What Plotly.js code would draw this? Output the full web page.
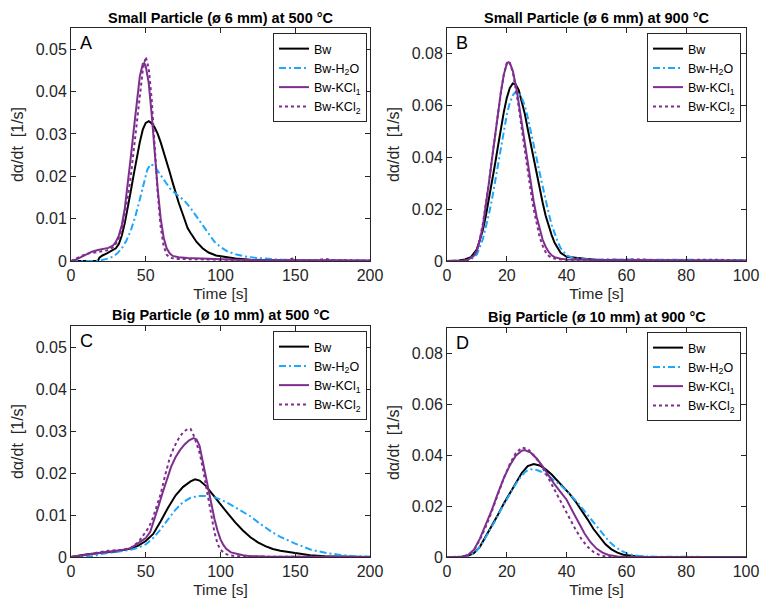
<!DOCTYPE html>
<html>
<head>
<meta charset="utf-8">
<script src="https://cdn.plot.ly/plotly-3.0.1.min.js"></script>
<style>html,body{margin:0;padding:0;background:#fff;}#chart{width:760px;height:600px;}</style>
</head>
<body>
<div id="chart"></div>
<script>
// ---------- Data ----------
const seriesNames = ['Bw', 'Bw-H<sub>2</sub>O', 'Bw-KCl<sub>1</sub>', 'Bw-KCl<sub>2</sub>'];
const panelTitles = ['Small Particle (ø 6 mm) at 500 °C', 'Small Particle (ø 6 mm) at 900 °C',
                     'Big Particle (ø 10 mm) at 500 °C', 'Big Particle (ø 10 mm) at 900 °C'];
const panelLetters = ['A', 'B', 'C', 'D'];

// Panel A: small particle, 500 °C
const A_Bw_t = [0,10,18,19,21,24,27,30,32,34,36,38,40,42,44,46,48,50,52,54,56,58,60,62,64,66,68,70,72,75,78,80,84,88,92,97,103,110,120,140,160,180,200];
const A_Bw_v = [0,0,0,0.0008,0.0013,0.0018,0.0024,0.0030,0.0040,0.0060,0.0090,0.0125,0.0165,0.0205,0.0245,0.0280,0.0310,0.0326,0.0330,0.0325,0.0315,0.0300,0.0280,0.0258,0.0235,0.0210,0.0185,0.0160,0.0138,0.0108,0.0078,0.0066,0.0045,0.0030,0.0020,0.0013,0.0009,0.0006,0.0003,0.0001,0.0001,0.0001,0];
const A_H2O_t = [0,15,20,24,28,31,34,37,40,43,46,49,51,53,55,57,60,63,66,69,72,76,80,84,88,92,96,100,105,110,116,122,130,140,160,180,200];
const A_H2O_v = [0,0,0.0002,0.0005,0.0010,0.0018,0.0030,0.0048,0.0072,0.0105,0.0145,0.0190,0.0215,0.0228,0.0226,0.0218,0.0203,0.0188,0.0172,0.0162,0.0153,0.0142,0.0125,0.0105,0.0083,0.0062,0.0045,0.0033,0.0022,0.0016,0.0011,0.0008,0.0005,0.0003,0.0002,0.0002,0.0001];
const A_KCl1_t = [0,3,6,10,14,18,22,25,28,30,32,34,36,38,40,42,44,46,48,49,50,52,54,56,58,60,62,64,66,68,72,78,85,95,110,130,160,200];
const A_KCl1_v = [0,0.0003,0.0008,0.0016,0.0022,0.0026,0.0029,0.0031,0.0036,0.0045,0.0060,0.0085,0.0125,0.0180,0.0245,0.0310,0.0375,0.0435,0.0465,0.0467,0.0460,0.0420,0.0345,0.0255,0.0170,0.0100,0.0055,0.0030,0.0018,0.0012,0.0009,0.0007,0.0006,0.0004,0.0003,0.0002,0.0002,0.0001];
const A_KCl2_t = [0,3,6,9,12,16,20,24,28,31,34,37,40,43,46,48,50,52,54,56,58,60,62,64,66,70,80,100,120,145,148,151,165,170,175,200];
const A_KCl2_v = [0,0.0005,0.0010,0.0015,0.0018,0.0020,0.0022,0.0025,0.0032,0.0045,0.0075,0.0125,0.0200,0.0290,0.0390,0.0450,0.0482,0.0455,0.0380,0.0270,0.0160,0.0080,0.0035,0.0015,0.0008,0.0005,0.0004,0.0003,0.0002,0.0002,0.0006,0.0002,0.0002,0.0005,0.0002,0.0001];

// Panel B: small particle, 900 °C
const B_Bw_t = [0,4,6,8,10,12,13,14,15,16,17,18,19,20,21,22,23,24,25,26,27,28,29,30,31,32,33,34,35,36,38,40,42,44,46,50,60,70,80,90,100];
const B_Bw_v = [0,0.0002,0.0006,0.0015,0.0045,0.0120,0.0175,0.0235,0.0300,0.0370,0.0440,0.0510,0.0575,0.0630,0.0668,0.0686,0.0682,0.0660,0.0620,0.0570,0.0510,0.0450,0.0390,0.0330,0.0275,0.0225,0.0175,0.0135,0.0100,0.0070,0.0032,0.0016,0.0013,0.0012,0.0009,0.0005,0.0003,0.0002,0.0002,0.0001,0.0001];
const B_H2O_t = [0,6,8,10,12,13,14,15,16,17,18,19,20,21,22,23,24,25,26,27,28,29,30,31,32,33,34,35,36,37,38,40,42,45,50,60,66,70,80,90,100];
const B_H2O_v = [0,0,0.0005,0.0025,0.0085,0.0130,0.0180,0.0235,0.0300,0.0370,0.0440,0.0505,0.0565,0.0610,0.0640,0.0655,0.0650,0.0630,0.0600,0.0555,0.0505,0.0450,0.0395,0.0340,0.0285,0.0235,0.0185,0.0140,0.0105,0.0075,0.0050,0.0022,0.0012,0.0008,0.0006,0.0005,0.0007,0.0005,0.0004,0.0004,0.0004];
const B_KCl1_t = [0,5,7,9,10,11,12,13,14,15,16,17,18,19,20,20.5,21,22,23,24,25,26,27,28,29,30,31,32,33,34,35,36,38,40,50,60,80,100];
const B_KCl1_v = [0,0.0001,0.0005,0.0020,0.0040,0.0080,0.0135,0.0210,0.0300,0.0390,0.0480,0.0570,0.0650,0.0720,0.0762,0.0768,0.0765,0.0735,0.0680,0.0610,0.0530,0.0450,0.0370,0.0295,0.0230,0.0170,0.0120,0.0082,0.0055,0.0035,0.0022,0.0015,0.0009,0.0006,0.0004,0.0003,0.0002,0.0001];
const B_KCl2_t = [0,5,7,9,10,11,12,13,14,15,16,17,18,19,20,20.5,21,22,23,24,25,26,27,28,29,30,31,32,33,34,35,37,40,50,65,70,80,90,100];
const B_KCl2_v = [0,0.0001,0.0005,0.0020,0.0042,0.0085,0.0145,0.0215,0.0300,0.0390,0.0480,0.0570,0.0650,0.0720,0.0765,0.0772,0.0765,0.0730,0.0670,0.0595,0.0510,0.0425,0.0345,0.0270,0.0200,0.0140,0.0092,0.0058,0.0034,0.0020,0.0012,0.0007,0.0005,0.0004,0.0006,0.0003,0.0003,0.0005,0.0002];

// Panel C: big particle, 500 °C
const C_Bw_t = [0,10,20,30,40,45,50,55,60,65,70,75,80,83,86,90,95,100,105,110,115,120,125,130,135,140,145,150,160,170,180,200];
const C_Bw_v = [0,0.0006,0.0010,0.0013,0.0020,0.0027,0.0038,0.0055,0.0085,0.0118,0.0147,0.0167,0.0180,0.0185,0.0182,0.0170,0.0148,0.0125,0.0103,0.0082,0.0063,0.0047,0.0035,0.0026,0.0019,0.0015,0.0012,0.0009,0.0004,0.0002,0.0001,0];
const C_H2O_t = [0,15,20,30,40,45,50,55,60,65,70,75,80,85,90,95,100,105,110,115,120,125,130,135,140,145,150,160,170,180,190,200];
const C_H2O_v = [0,0.0002,0.0007,0.0012,0.0017,0.0022,0.0030,0.0045,0.0066,0.0090,0.0113,0.0131,0.0141,0.0145,0.0145,0.0143,0.0137,0.0128,0.0117,0.0107,0.0097,0.0083,0.0070,0.0058,0.0048,0.0040,0.0032,0.0018,0.0010,0.0005,0.0002,0.0001];
const C_KCl1_t = [0,10,20,25,30,35,40,45,50,53,55,58,61,64,67,70,73,76,79,82,84,86,88,90,92,94,96,98,100,102,104,107,110,115,120,130,200];
const C_KCl1_v = [0,0.0005,0.0011,0.0014,0.0015,0.0017,0.0021,0.0033,0.0045,0.0060,0.0080,0.0115,0.0150,0.0185,0.0215,0.0238,0.0255,0.0268,0.0278,0.0283,0.0280,0.0265,0.0230,0.0190,0.0155,0.0120,0.0090,0.0063,0.0042,0.0028,0.0019,0.0011,0.0008,0.0004,0.0002,0.0001,0];
const C_KCl2_t = [0,10,20,25,30,35,40,45,48,51,54,57,60,63,66,69,72,75,78,80,82,84,86,88,90,92,94,96,98,100,103,106,110,120,200];
const C_KCl2_v = [0,0.0005,0.0012,0.0015,0.0016,0.0017,0.0022,0.0035,0.0050,0.0065,0.0085,0.0115,0.0150,0.0195,0.0235,0.0262,0.0282,0.0297,0.0305,0.0305,0.0290,0.0270,0.0248,0.0215,0.0175,0.0138,0.0095,0.0058,0.0032,0.0017,0.0008,0.0004,0.0002,0.0001,0];

// Panel D: big particle, 900 °C
const D_Bw_t = [0,5,7,9,11,13,15,17,19,21,23,25,27,29,31,33,35,37,39,41,43,45,47,49,51,53,55,57,59,61,63,66,70,100];
const D_Bw_v = [0,0.0001,0.0005,0.0015,0.0040,0.0080,0.0120,0.0165,0.0210,0.0250,0.0292,0.0330,0.0357,0.0365,0.0360,0.0345,0.0324,0.0300,0.0275,0.0248,0.0218,0.0185,0.0148,0.0110,0.0078,0.0050,0.0030,0.0017,0.0009,0.0005,0.0003,0.0001,0,0];
const D_H2O_t = [0,6,8,10,12,14,16,18,20,22,24,26,27,28,30,32,34,36,38,40,42,44,46,48,50,52,54,56,58,60,62,65,70,100];
const D_H2O_v = [0,0.0001,0.0008,0.0025,0.0058,0.0098,0.0140,0.0185,0.0228,0.0268,0.0305,0.0333,0.0341,0.0345,0.0342,0.0333,0.0318,0.0300,0.0282,0.0260,0.0237,0.0210,0.0180,0.0150,0.0120,0.0090,0.0064,0.0042,0.0026,0.0015,0.0008,0.0003,0.0001,0];
const D_KCl1_t = [0,5,7,9,11,13,15,17,19,21,23,25,26,28,30,32,34,36,38,40,42,44,46,48,50,52,54,57,60,100];
const D_KCl1_v = [0,0.0001,0.0008,0.0028,0.0072,0.0125,0.0185,0.0250,0.0310,0.0360,0.0398,0.0418,0.0420,0.0410,0.0387,0.0356,0.0320,0.0285,0.0255,0.0225,0.0180,0.0135,0.0092,0.0058,0.0033,0.0017,0.0008,0.0002,0.0001,0];
const D_KCl2_t = [0,5,7,9,11,13,15,17,19,21,23,25,27,29,31,33,35,37,39,41,43,45,47,49,51,53,56,100];
const D_KCl2_v = [0,0.0001,0.0007,0.0026,0.0068,0.0120,0.0180,0.0248,0.0310,0.0365,0.0408,0.0430,0.0425,0.0400,0.0370,0.0330,0.0285,0.0240,0.0195,0.0150,0.0108,0.0070,0.0040,0.0020,0.0008,0.0002,0,0];

// ---------- Styling ----------
const FONT = 'Liberation Sans, Arial, Helvetica, sans-serif';
const AX = '#262626';
const styles = [
  {color: '#000000', width: 2, dash: 'solid'},
  {color: '#1EA7FD', width: 2, dash: '7px,3px,2px,3px'},
  {color: '#7E2F8E', width: 2, dash: 'solid'},
  {color: '#7E2F8E', width: 2, dash: 'dot'}
];

const panels = [
  {t: [A_Bw_t, A_H2O_t, A_KCl1_t, A_KCl2_t], v: [A_Bw_v, A_H2O_v, A_KCl1_v, A_KCl2_v]},
  {t: [B_Bw_t, B_H2O_t, B_KCl1_t, B_KCl2_t], v: [B_Bw_v, B_H2O_v, B_KCl1_v, B_KCl2_v]},
  {t: [C_Bw_t, C_H2O_t, C_KCl1_t, C_KCl2_t], v: [C_Bw_v, C_H2O_v, C_KCl1_v, C_KCl2_v]},
  {t: [D_Bw_t, D_H2O_t, D_KCl1_t, D_KCl2_t], v: [D_Bw_v, D_H2O_v, D_KCl1_v, D_KCl2_v]}
];

const W = 760, H = 600;
// plot-area geometry in pixels: [left, right, top, bottom]
const geo = [[71, 370, 28, 261], [447, 746, 28, 261], [71, 370, 326, 557], [447, 746, 328, 557]];
const xRanges = [[0, 200], [0, 100], [0, 200], [0, 100]];
const xDticks = [50, 20, 50, 20];
const yRanges = [[0, 0.055], [0, 0.09], [0, 0.055], [0, 0.09]];
const yDticks = [0.01, 0.02, 0.01, 0.02];
const titleY = [18, 18, 315, 317];
const legendTop = [33, 33, 331, 332];
const legendRight = [367, 741, 367, 741];

const traces = [];
const layout = {
  width: W, height: H,
  margin: {l: 0, r: 0, t: 0, b: 0},
  paper_bgcolor: '#ffffff', plot_bgcolor: '#ffffff',
  font: {family: FONT, color: AX},
  showlegend: true,
  annotations: []
};

panels.forEach((p, i) => {
  const n = i === 0 ? '' : String(i + 1);
  const xa = 'x' + n, ya = 'y' + n;
  const lg = 'legend' + n;
  for (let s = 0; s < 4; s++) {
    traces.push({
      type: 'scatter', mode: 'lines',
      x: p.t[s], y: p.v[s],
      xaxis: xa, yaxis: ya,
      name: seriesNames[s],
      legend: lg,
      line: {color: styles[s].color, width: styles[s].width, dash: styles[s].dash},
      hoverinfo: 'skip'
    });
  }
  const g = geo[i];
  const common = {
    showline: true, linecolor: AX, linewidth: 1, mirror: 'ticks',
    ticks: 'inside', ticklen: 5, tickwidth: 1, tickcolor: AX,
    showgrid: false, zeroline: false,
    tickfont: {family: FONT, size: 16, color: AX}
  };
  layout['xaxis' + n] = Object.assign({}, common, {
    domain: [g[0] / W, g[1] / W], anchor: ya,
    range: xRanges[i], dtick: xDticks[i], tick0: 0,
    title: {text: 'Time [s]', font: {family: FONT, size: 15.5, color: AX}, standoff: 4}
  });
  layout['yaxis' + n] = Object.assign({}, common, {
    domain: [1 - g[3] / H, 1 - g[2] / H], anchor: xa,
    range: yRanges[i], dtick: yDticks[i], tick0: 0,
    title: {text: 'dα/dt  [1/s]', font: {family: FONT, size: 16, color: AX}, standoff: 8}
  });
  layout[lg] = {
    x: legendRight[i] / W, xanchor: 'right',
    y: 1 - legendTop[i] / H, yanchor: 'top',
    bgcolor: '#ffffff', bordercolor: AX, borderwidth: 1,
    font: {family: FONT, size: 12.5, color: '#000000'},
    tracegroupgap: 0, itemwidth: 30
  };
  layout.annotations.push({
    xref: xa + ' domain', yref: 'paper',
    x: 0.5, y: 1 - titleY[i] / H, xanchor: 'center', yanchor: 'middle',
    text: '<b>' + panelTitles[i] + '</b>', showarrow: false,
    font: {family: FONT, size: 14.5, color: '#000000'}
  });
  layout.annotations.push({
    xref: xa + ' domain', yref: ya + ' domain',
    x: 0.025, y: 0.985, xanchor: 'left', yanchor: 'top',
    text: panelLetters[i], showarrow: false,
    font: {family: FONT, size: 18, color: '#000000'}
  });
});

Plotly.newPlot('chart', traces, layout, {staticPlot: true, displayModeBar: false});
</script>
</body>
</html>
